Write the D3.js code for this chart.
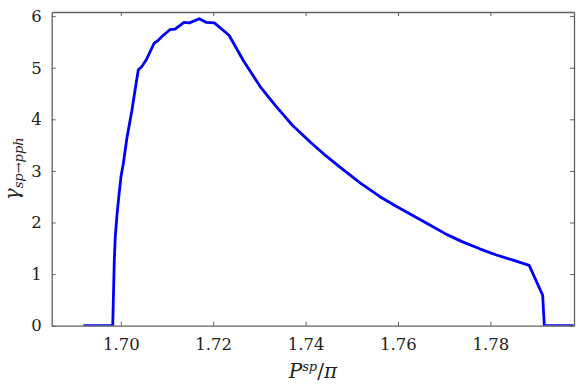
<!DOCTYPE html>
<html>
<head>
<meta charset="utf-8">
<script src="https://cdn.jsdelivr.net/npm/d3@7"></script>
<style>
  body { margin: 0; background: #fff; }
</style>
</head>
<body>
<script>
"use strict";

// momentum P^sp / pi
var pValues = [1.69188, 1.69825, 1.69859, 1.6988, 1.69915, 1.6996, 1.70004, 1.70054,
  1.70134, 1.70236, 1.70307, 1.70379, 1.70452, 1.70561, 1.70719, 1.70794, 1.70885,
  1.71065, 1.71173, 1.71368, 1.71487, 1.71699, 1.71844, 1.72024, 1.72342, 1.72652,
  1.7302, 1.7337, 1.7372, 1.7410, 1.7443, 1.7475, 1.7518, 1.7561, 1.7597, 1.7633,
  1.7669, 1.7705, 1.7741, 1.7777, 1.7813, 1.7849, 1.7884, 1.79132, 1.79167, 1.798];
// rate gamma_{sp->pph}
var gammaValues = [0, 0, 1.27, 1.72, 2.13, 2.53, 2.89, 3.14,
  3.65, 4.15, 4.56, 4.96, 5.02, 5.17, 5.47, 5.52, 5.60,
  5.74, 5.75, 5.88, 5.87, 5.95, 5.88, 5.87, 5.63, 5.14,
  4.63, 4.24, 3.88, 3.56, 3.30, 3.07, 2.77, 2.50, 2.31, 2.13,
  1.95, 1.77, 1.62, 1.49, 1.37, 1.27, 1.17, 0.59, 0, 0];

var xTicks = [1.70, 1.72, 1.74, 1.76, 1.78];
var yTicks = [0, 1, 2, 3, 4, 5, 6];
var xDomain = [1.68504, 1.7981];
var yDomain = [0, 6.08];

var serif = "DejaVu Serif";

window.onload = function() {
  var width = 582, height = 390;
  var left = 51.7, right = 574, top = 12, bottom = 325.7;

  var svg = d3.select("body").append("svg")
      .attr("width", width)
      .attr("height", height)
      .attr("font-family", serif);

  var x = d3.scaleLinear().domain(xDomain).range([left, right]);
  var y = d3.scaleLinear().domain(yDomain).range([bottom, top]);

  var data = pValues.map(function(p, i) { return [p, gammaValues[i]]; });

  svg.append("clipPath").attr("id", "clip")
    .append("rect")
      .attr("x", left).attr("y", top)
      .attr("width", right - left).attr("height", bottom - top);

  svg.append("path")
      .datum(data)
      .attr("clip-path", "url(#clip)")
      .attr("fill", "none")
      .attr("stroke", "#0000ff")
      .attr("stroke-width", 2.8)
      .attr("stroke-linejoin", "round")
      .attr("d", d3.line().x(function(d) { return x(d[0]); }).y(function(d) { return y(d[1]); }));

  // axes, ticks pointing inside on all four sides
  var frameColor = "#606060";
  var xb = svg.append("g").attr("transform", "translate(0," + bottom + ")")
      .call(d3.axisBottom(x).tickValues(xTicks).tickSizeInner(-4).tickSizeOuter(0)
        .tickPadding(13).tickFormat(d3.format(".2f")));
  var xt = svg.append("g").attr("transform", "translate(0," + top + ")")
      .call(d3.axisTop(x).tickValues(xTicks).tickSizeInner(-4).tickSizeOuter(0).tickFormat(""));
  var yl = svg.append("g").attr("transform", "translate(" + left + ",0)")
      .call(d3.axisLeft(y).tickValues(yTicks).tickSizeInner(-4).tickSizeOuter(0)
        .tickPadding(10).tickFormat(d3.format("d")));
  var yr = svg.append("g").attr("transform", "translate(" + right + ",0)")
      .call(d3.axisRight(y).tickValues(yTicks).tickSizeInner(-4).tickSizeOuter(0).tickFormat(""));

  [xb, xt, yl, yr].forEach(function(g) {
    g.attr("font-family", serif).attr("font-size", 16.5);
    g.select(".domain").attr("stroke", frameColor).attr("stroke-width", 1.3);
    g.selectAll(".tick line").attr("stroke", frameColor).attr("stroke-width", 1);
    g.selectAll("text").attr("fill", "#222");
  });

  // x label  P^sp / pi
  var xl = svg.append("text")
      .attr("x", (left + right) / 2).attr("y", 378)
      .attr("text-anchor", "middle").attr("font-size", 20)
      .attr("fill", "#222");
  xl.append("tspan").attr("font-style", "italic").text("P");
  xl.append("tspan").attr("font-style", "italic").attr("font-size", 13).attr("dy", -7).text("sp");
  xl.append("tspan").attr("dy", 7).text("/");
  xl.append("tspan").attr("font-style", "italic").text("π");

  // y label  gamma_{sp->pph}
  var ylab = svg.append("text")
      .attr("transform", "translate(19," + ((top + bottom) / 2) + ") rotate(-90)")
      .attr("text-anchor", "middle").attr("font-size", 20)
      .attr("fill", "#222");
  ylab.append("tspan").attr("font-style", "italic").text("γ");
  ylab.append("tspan").attr("font-style", "italic").attr("font-size", 13).attr("dy", 4).text("sp→pph");
};
</script>
</body>
</html>
